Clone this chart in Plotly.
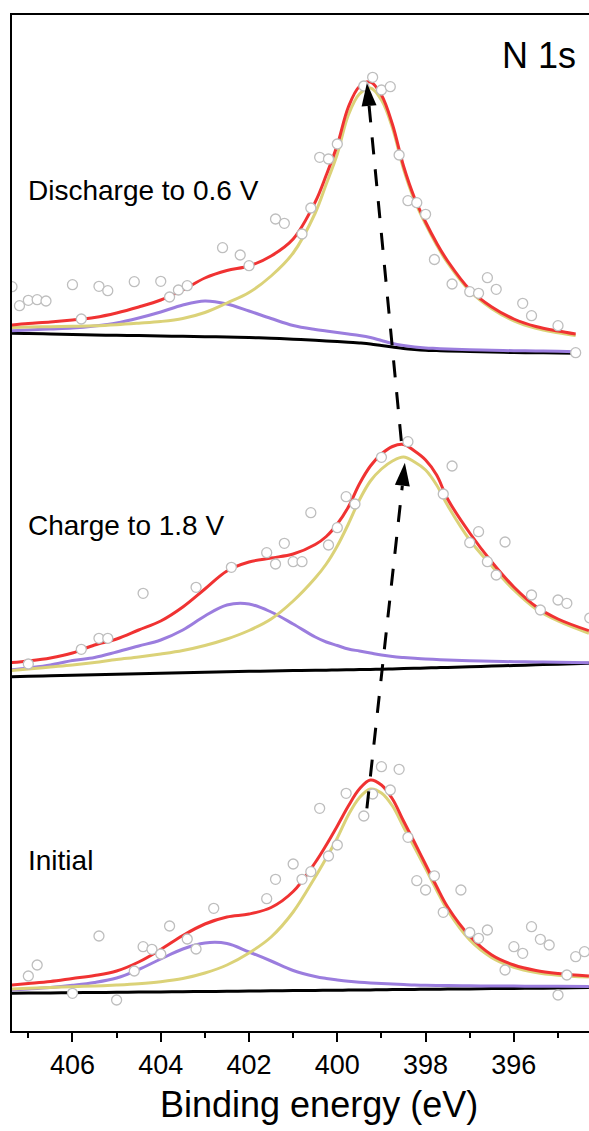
import numpy as np
import plotly.graph_objects as go

# ---------------- data (binding energy in eV, intensity in a.u.) ----------------
X_TOP = [407.4, 407.0, 406.5, 406.0, 405.5, 405.0, 404.5, 404.0, 403.5, 403.0, 402.5, 402.0,
         401.5, 401.0, 400.5, 400.25, 400.0, 399.75, 399.5, 399.25, 399.0, 398.75, 398.5, 398.25,
         398.0, 397.75, 397.5, 397.0, 396.5, 396.0, 395.5, 395.0, 394.6]
X_FULL = X_TOP[:-1] + [394.3]

# Discharge to 0.6 V
dis_envelope = [37, 38.5, 40, 42, 44.5, 49, 55, 62, 72, 84, 91.5, 96, 106, 123, 160, 187, 217, 255,
                275.5, 280, 267, 237.5, 196, 164, 140, 119, 101, 72.5, 55, 43, 35.5, 31, 28]
dis_main = [34.4, 35, 35.3, 35.7, 36.2, 37.3, 38.8, 40.5, 43.5, 49.5, 59, 69.5, 86, 109, 149, 178,
            208, 247, 268, 274, 262, 234, 193, 161.5, 137.8, 117, 99, 71, 53.3, 41.2, 33.7, 29.3,
            26.4]
dis_second = [31.3, 32, 33, 34, 36, 39, 44, 50, 57, 61, 58, 51, 43.5, 36.5, 32.5, 31, 29.5, 28,
              26.5, 24.5, 21.5, 18.5, 16.5, 15, 14, 13.5, 13, 12.2, 11.7, 11.3, 11, 10.7, 10.3]
dis_bg = [28.7, 28.5, 28, 27.5, 27, 26.7, 26.4, 26, 25.7, 25.3, 25, 24.5, 23.8, 22.8, 21.7, 21.1,
          20.5, 19.8, 19, 18, 16.5, 15, 13.5, 12.5, 11.8, 11.4, 11, 10.5, 10, 9.5, 9.2, 9, 8.7]
dis_pts_x = [407.37, 407.2, 407.0, 406.8, 406.6, 406.0, 405.8, 405.4, 405.2, 404.6, 404.0, 403.8,
             403.6, 403.4, 402.6, 402.2, 402.0, 401.4, 401.2, 400.8, 400.6, 400.4, 400.2, 400.0,
             399.4, 399.2, 399.0, 398.8, 398.6, 398.4, 398.2, 398.0, 397.8, 397.4, 397.0, 396.8,
             396.6, 396.4, 395.8, 395.6, 395.0, 394.6]
dis_pts_y = [75.3, 56.3, 61.7, 62.3, 61, 77.3, 43, 75.7, 71.3, 80.3, 80.7, 65, 72, 76.3, 114.3, 107,
             96.3, 143, 138.7, 128, 154, 204.7, 203, 218, 276, 284.7, 272, 275.3, 207, 161.3, 159.3,
             147.7, 102.5, 78, 70.3, 68.7, 84.3, 72.7, 58.7, 46.3, 36.3, 9.3]

# Charge to 1.8 V
chg_envelope = [24.3, 26, 29, 34, 42, 48, 57, 66, 80, 98, 116, 125, 129, 133, 142.5, 150.5, 163,
                180, 203, 221, 233, 240.5, 242.5, 236, 227, 212, 188, 154, 125, 100, 80.5, 68, 56.3]
chg_main = [16.3, 18, 20, 22, 24.5, 27.5, 30, 33, 36.5, 41.5, 48, 56.5, 68, 86, 109, 123, 141, 163,
            187, 206, 218, 226, 230, 225, 217, 202, 181.5, 147, 121, 97, 78, 66, 53.7]
chg_second = [17, 19, 22, 26.5, 29.5, 35, 41, 47, 57, 71, 82, 83, 75, 63, 50, 45, 41.5, 38, 36, 34,
              32, 30.5, 29.5, 28.7, 28, 27.5, 27, 26.2, 25.7, 25.3, 25, 24.7, 24.3]
chg_bg = [10.3, 10.7, 11.2, 11.7, 12.2, 12.8, 13.3, 13.8, 14.3, 14.8, 15.3, 15.7, 16, 16.4, 16.7,
          16.85, 17, 17.2, 17.4, 17.6, 17.8, 18.1, 18.4, 18.7, 19, 19.3, 19.6, 20.2, 20.9, 21.5,
          22.2, 22.8, 23.7]
chg_pts_x = [407.0, 405.8, 405.4, 405.2, 404.4, 403.2, 402.4, 401.6, 401.4, 401.2, 401.0, 400.8,
             400.6, 400.2, 400.0, 399.8, 399.6, 399.0, 398.4, 397.6, 397.4, 397.0, 396.8, 396.6,
             396.4, 396.2, 395.6, 395.4, 395.0, 394.8, 394.28]
chg_pts_y = [23, 37.7, 48.7, 48.7, 93.7, 99.7, 119.7, 134.3, 123, 143.7, 125.3, 125.3, 174.3, 142,
             159.3, 190.3, 183, 229.7, 245.3, 193, 221, 144.3, 155.3, 125.3, 112, 145, 92, 77, 87,
             83.7, 69]

# Initial
ini_envelope = [17, 18.5, 20.5, 23.5, 26.5, 31, 40, 52.5, 66.5, 78, 85, 88, 94.5, 110.5, 139.5, 157,
                176, 196, 213, 222, 217, 203, 181, 159.5, 137.5, 115.5, 95, 66, 47, 37, 31.5, 28.5,
                26]
ini_main = [13, 13.7, 14.5, 15.3, 16, 17, 18.3, 20.3, 23.5, 29, 37, 49, 65, 90, 125, 144, 164, 187,
            204.3, 213, 209, 196, 175, 154.5, 133.5, 111.8, 91.5, 62, 44.4, 34.7, 29.5, 26.8, 24.9]
ini_second = [12, 13, 14.5, 16.7, 19.5, 24, 32.5, 43, 53, 59, 58.5, 50, 41, 31.5, 25.5, 23.5, 22,
              20.7, 19.7, 19, 18.5, 18, 17.5, 17, 16.7, 16.5, 16.4, 16.2, 16, 15.9, 15.8, 15.7,
              15.5]
ini_bg = [8.7, 8.9, 9.1, 9.3, 9.5, 9.7, 9.9, 10.1, 10.3, 10.5, 10.7, 11, 11.2, 11.4, 11.6, 11.7,
          11.8, 11.9, 12, 12.1, 12.2, 12.4, 12.5, 12.6, 12.7, 12.8, 12.9, 13.1, 13.4, 13.6, 13.8,
          14, 14.4]
ini_pts_x = [407.0, 406.8, 406.0, 405.4, 405.0, 404.6, 404.4, 404.2, 404.0, 403.8, 403.4, 403.2,
             402.8, 401.6, 401.4, 401.0, 400.8, 400.6, 400.4, 400.2, 400.0, 399.8, 399.4, 399.2,
             399.0, 398.8, 398.6, 398.4, 398.2, 398.0, 397.8, 397.6, 397.2, 397.0, 396.8, 396.6,
             396.2, 396.0, 395.8, 395.6, 395.4, 395.2, 395.0, 394.8, 394.6, 394.4]
ini_pts_y = [26, 37, 8.7, 66, 2, 31, 55.3, 52.7, 48, 76, 63, 53, 93.7, 103.3, 122.7, 138, 122.7,
             130.3, 193.7, 146, 157, 208.7, 186, 208, 235.3, 212, 232.7, 164.7, 121.3, 112, 126.2,
             89.7, 112, 69.5, 63.7, 72, 32, 55.3, 48.7, 75.3, 62.7, 57, 7, 27, 45.3, 50.3]

tick_vals = [406, 404, 402, 400, 398, 396]
minor_vals = [407, 405, 403, 401, 399, 397, 395]
labels = ["Discharge to 0.6 V", "Charge to 1.8 V", "Initial"]

# peak-shift arrows (eV, stacked intensity)
arrows = [((399.33, 223.7), (398.47, 569.3)),
          ((398.55, 591.0), (399.33, 949.0))]

# ---------------- layout constants ----------------
W, H = 589, 1131
ML, MR, MT, MB = 12, 0, 15, 100
XR = [407.37, 394.298]
YR = [1, 1017]
OFFSETS = {"dis": 670, "chg": 345, "ini": 30}

RED = "rgb(240,50,50)"
YEL = "rgb(219,210,120)"
PUR = "rgb(155,125,222)"
FONT = "Liberation Sans, Arial, sans-serif"

fig = go.Figure()

panels = [
    ("dis", X_TOP, dis_bg, dis_second, dis_main, dis_envelope, dis_pts_x, dis_pts_y),
    ("chg", X_FULL, chg_bg, chg_second, chg_main, chg_envelope, chg_pts_x, chg_pts_y),
    ("ini", X_FULL, ini_bg, ini_second, ini_main, ini_envelope, ini_pts_x, ini_pts_y),
]

for key, xs, bg, sec, main, env, px, py in panels:
    off = OFFSETS[key]
    for arr, col in [(bg, "black"), (sec, PUR), (main, YEL), (env, RED)]:
        fig.add_trace(go.Scatter(x=xs, y=np.array(arr) + off, mode="lines",
                                 line=dict(color=col, width=3, shape="spline", smoothing=1.0),
                                 hoverinfo="skip", showlegend=False))

for key, xs, bg, sec, main, env, px, py in panels:
    off = OFFSETS[key]
    fig.add_trace(go.Scatter(x=px, y=np.array(py) + off, mode="markers",
                             marker=dict(symbol="circle", size=10, color="white",
                                         line=dict(color="rgb(190,190,190)", width=1.3)),
                             showlegend=False, hoverinfo="skip"))

# arrows: dashed shaft + filled head computed in pixel space
plot_w = W - ML - MR
plot_h = H - MT - MB
kx = plot_w / (XR[0] - XR[1])  # px per eV (axis reversed)
ky = plot_h / (YR[1] - YR[0])  # px per unit
HEAD_L, HEAD_W = 23.0, 7.5
shapes = []
for (x0, y0), (x1, y1) in arrows:
    dxp = -(x1 - x0) * kx
    dyp = (y1 - y0) * ky
    n = np.hypot(dxp, dyp)
    ux, uy = dxp / n, dyp / n
    bx, by = -HEAD_L * ux, -HEAD_L * uy
    nx, ny = -uy, ux
    base_x = x1 - bx / kx
    base_y = y1 + by / ky
    p1 = (x1 - (bx + HEAD_W * nx) / kx, y1 + (by + HEAD_W * ny) / ky)
    p2 = (x1 - (bx - HEAD_W * nx) / kx, y1 + (by - HEAD_W * ny) / ky)
    shapes.append(dict(type="line", xref="x", yref="y", x0=x0, y0=y0, x1=base_x, y1=base_y,
                       line=dict(color="black", width=3, dash="17px,15px")))
    shapes.append(dict(type="path", xref="x", yref="y",
                       path=f"M{x1},{y1} L{p1[0]},{p1[1]} L{p2[0]},{p2[1]} Z",
                       fillcolor="black", line=dict(width=0)))


def pxx(p):
    return (p - ML) / plot_w


def pyy(p):
    return (H - MB - p) / plot_h


annotations = [
    dict(text="N 1s", x=pxx(578), y=pyy(55), xanchor="right", yanchor="middle",
         font=dict(size=36, family=FONT, color="black")),
    dict(text=labels[0], x=pxx(26), y=pyy(190), xanchor="left", yanchor="middle",
         font=dict(size=28, family=FONT, color="black")),
    dict(text=labels[1], x=pxx(26), y=pyy(525), xanchor="left", yanchor="middle",
         font=dict(size=28, family=FONT, color="black")),
    dict(text=labels[2], x=pxx(26), y=pyy(860), xanchor="left", yanchor="middle",
         font=dict(size=28, family=FONT, color="black")),
    dict(text="Binding energy (eV)", x=pxx(318.5), y=pyy(1104), xanchor="center",
         yanchor="middle", font=dict(size=36, family=FONT, color="black")),
]
for a in annotations:
    a.update(xref="paper", yref="paper", showarrow=False)

fig.update_layout(
    width=W, height=H,
    margin=dict(l=ML, r=MR, t=MT, b=MB),
    paper_bgcolor="white", plot_bgcolor="white",
    shapes=shapes, annotations=annotations,
    font=dict(family=FONT, color="black"),
    xaxis=dict(range=XR, showline=True, linecolor="black", linewidth=2, mirror=True,
               showgrid=False, zeroline=False, ticks="outside", ticklen=9, tickwidth=2,
               tickcolor="black", tickvals=tick_vals, ticktext=[str(v) for v in tick_vals],
               tickfont=dict(size=27, family=FONT, color="black"),
               minor=dict(ticks="outside", ticklen=5, tickwidth=2, tickcolor="black",
                          tickvals=minor_vals, showgrid=False)),
    yaxis=dict(range=YR, showline=True, linecolor="black", linewidth=2, mirror=False,
               showgrid=False, zeroline=False, ticks="", showticklabels=False),
)

fig.write_html("out.html")
